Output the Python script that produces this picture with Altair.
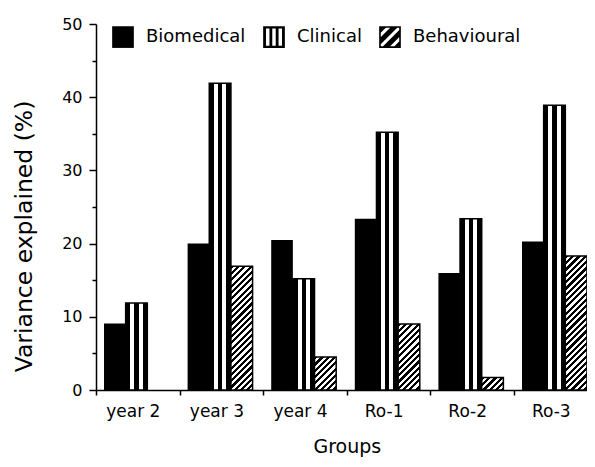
import altair as alt
import pandas as pd

# ---------------- data ----------------
groups = ["year 2", "year 3", "year 4", "Ro-1", "Ro-2", "Ro-3"]
types = ["Biomedical", "Clinical", "Behavioural"]
biomedical = [9.1, 20.0, 20.5, 23.4, 16.0, 20.3]
clinical = [11.9, 41.9, 15.2, 35.2, 23.4, 38.9]
behavioural = [0.0, 16.9, 4.5, 9.0, 1.7, 18.3]
y_ticks = list(range(0, 55, 5))

rows = []
for i, g in enumerate(groups):
    for t, vals in zip(types, [biomedical, clinical, behavioural]):
        rows.append({"group": g, "type": t, "value": vals[i]})
df = pd.DataFrame(rows)

# ---------------- layout / style ----------------
FONT = "DejaVu Sans"
W, H = 491, 366
X_RANGE = 501.6
Y_MAX = 50
PPU = H / Y_MAX
PAD_OUTER = 0.43
group_band = X_RANGE / len(groups)
bar_w = group_band / (len(types) + 2 * PAD_OUTER)


def stops(pattern):
    s = []
    for a, b, c in pattern:
        s.append({"offset": a, "color": c})
        s.append({"offset": b, "color": c})
    return s


clin_grad = {
    "gradient": "linear", "x1": 0, "y1": 0, "x2": 1, "y2": 0,
    "stops": stops([(0, 0.22, "black"), (0.22, 0.40, "white"), (0.40, 0.60, "black"),
                    (0.60, 0.78, "white"), (0.78, 1, "black")]),
}


def hatch(h, w=bar_w, period=6.3, black=0.5):
    L = w + h
    m = L / (w * w + h * h)
    st = []
    k = 0
    while k * period < L:
        a = k * period / L
        b = min((k * period + black * period) / L, 1)
        c = min((k + 1) * period / L, 1)
        st += [{"offset": a, "color": "black"}, {"offset": b, "color": "black"}]
        if b < 1:
            st += [{"offset": b, "color": "white"}, {"offset": c, "color": "white"}]
        k += 1
    return {"gradient": "linear", "x1": 0, "y1": 0, "x2": w * m, "y2": h * m, "stops": st}


# legend symbol paths (unit square -1..1)
def clip(poly, a, b, c):
    out = []
    n = len(poly)
    for i in range(n):
        p, q = poly[i], poly[(i + 1) % n]
        fp = a * p[0] + b * p[1] - c
        fq = a * q[0] + b * q[1] - c
        if fp <= 0:
            out.append(p)
        if (fp < 0 < fq) or (fq < 0 < fp):
            t = fp / (fp - fq)
            out.append((p[0] + t * (q[0] - p[0]), p[1] + t * (q[1] - p[1])))
    return out


square = [(-1, -1), (1, -1), (1, 1), (-1, 1)]


def band(c1, c2):
    p = clip(square, 1, 1, c2)
    p = clip(p, -1, -1, -c1)
    return "M" + "L".join(f"{x:.3f},{y:.3f}" for x, y in p) + "Z"


frame = "M-1,-1H1V-0.85H-1Z M-1,0.85H1V1H-1Z M-1,-1H-0.85V1H-1Z M0.85,-1H1V1H0.85Z"
sym_bio = "M-1,-1H1V1H-1Z"
sym_clin = ("M-1,-1H1V-0.8H-1Z M-1,0.8H1V1H-1Z M-1,-1H-0.74V1H-1Z "
            "M-0.42,-1H-0.16V1H-0.42Z M0.16,-1H0.42V1H0.16Z M0.74,-1H1V1H0.74Z")
sym_beh = frame + " " + " ".join(
    band(a, b) for a, b in [(-2, -1.25), (-0.85, -0.2), (0.2, 0.85), (1.25, 2)])

# ---------------- chart ----------------
x_axis = alt.Axis(
    title="Groups", labelAngle=0, tickBand="extent", tickSize=5, tickWidth=1.5,
    domainWidth=1.5, domainColor="black", tickColor="black", labelFont=FONT,
    labelFontSize=17, labelColor="black", labelPadding=8, labelOffset=-5,
    titleFont=FONT, titleFontSize=19, titleFontWeight="normal", titleColor="black",
    titlePadding=18, grid=False,
)
y_axis = alt.Axis(
    title="Variance explained (%)", values=y_ticks,
    labelExpr="datum.value % 10 === 0 ? datum.label : ''",
    tickSize={"condition": {"test": "datum.value % 10 === 0", "value": 7}, "value": 4},
    tickWidth=1.5, domainWidth=1.5, domainColor="black", tickColor="black",
    labelFont=FONT, labelFontSize=16, labelColor="black", labelPadding=7,
    titleFont=FONT, titleFontSize=23.5, titleFontWeight="normal", titleColor="black",
    titlePadding=25, titleY=212, grid=False,
)

base = alt.Chart(df).encode(
    x=alt.X("group:N", sort=groups,
            scale=alt.Scale(domain=groups, range=[0, X_RANGE], paddingInner=0, paddingOuter=0),
            axis=x_axis),
    xOffset=alt.XOffset("type:N", sort=types,
                        scale=alt.Scale(domain=types, paddingInner=0, paddingOuter=PAD_OUTER, align=0.43)),
    y=alt.Y("value:Q", scale=alt.Scale(domain=[0, Y_MAX], nice=False), axis=y_axis),
)

layers = [
    base.mark_bar(color="black").transform_filter(alt.datum.type == "Biomedical"),
    base.mark_bar(fill=clin_grad, stroke="black", strokeWidth=1.5).transform_filter(
        alt.datum.type == "Clinical"),
]
for g, v in zip(groups, behavioural):
    if v > 0:
        layers.append(
            base.mark_bar(fill=hatch(v * PPU), stroke="black", strokeWidth=1.5).transform_filter(
                (alt.datum.type == "Behavioural") & (alt.datum.group == g))
        )

legend_layer = base.mark_point(filled=True, color="black", opacity=0).encode(
    shape=alt.Shape(
        "type:N", sort=types,
        scale=alt.Scale(domain=types, range=[sym_bio, sym_clin, sym_beh]),
        legend=alt.Legend(
            title=None, orient="none", legendX=16, legendY=2, direction="horizontal",
            symbolSize=470, symbolOpacity=1, symbolFillColor="black", symbolStrokeWidth=0,
            labelFont=FONT, labelFontSize=18, labelColor="black", labelOffset=12,
            columnPadding=17,
        ),
    )
)
layers.append(legend_layer)

chart = alt.layer(*layers).properties(
    width=W, height=H,
    autosize=alt.AutoSizeParams(type="none"),
    padding={"left": 88, "top": 16, "right": 0, "bottom": 69},
).configure_view(stroke=None)

chart.save("out.html", embed_options={"renderer": "svg", "actions": False})
